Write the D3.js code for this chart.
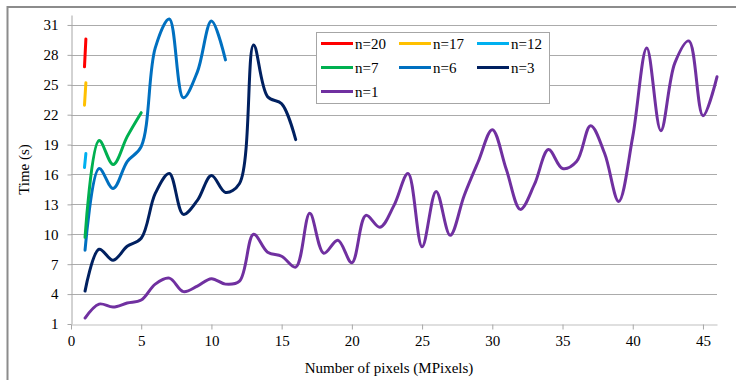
<!DOCTYPE html>
<html>
<head>
<meta charset="utf-8">
<script src="https://cdn.jsdelivr.net/npm/d3@7"></script>
<style>
  body { margin: 0; background: #fff; }
</style>
</head>
<body>
<div id="chart"></div>
<script>
// chart size and plot area
let width = 736, height = 380;
let margin = {top: 15, right: 19, bottom: 56, left: 71};
let serif = "'Liberation Serif', 'Times New Roman', serif";

// data: x = MPixels, y = time (s)
const seriesNames = ["n=20", "n=17", "n=12", "n=7", "n=6", "n=3", "n=1"];
const seriesColors = ["#FF0000", "#FFC000", "#00B0F0", "#00B050", "#0070C0", "#002060", "#7030A0"];

const xN20 = [0.96, 1.06];
const yN20 = [26.8, 29.6];
const xN17 = [0.96, 1.06];
const yN17 = [22.95, 25.2];
const xN12 = [0.96, 1.06];
const yN12 = [16.7, 18.1];

const xN7 = [1, 2, 3, 4, 5];
const yN7 = [9.7, 19.4, 17.0, 19.8, 22.2];

const xN6 = [1, 2, 3, 4, 5, 6, 7, 8, 9, 10, 11];
const yN6 = [8.4, 16.6, 14.6, 17.3, 18.8, 28.7, 31.6, 23.7, 26.3, 31.4, 27.5];

const xN3 = [1, 2, 3, 4, 5, 6, 7, 8, 9, 10, 11, 12, 13, 14, 15, 16];
const yN3 = [4.3, 8.5, 7.4, 8.8, 9.6, 14.1, 16.1, 12.0, 13.4, 15.9, 14.2, 15.1, 29.0, 23.8, 23.1, 19.5];

const xN1 = d3.range(1, 47);
const yN1 = [1.6, 3.0, 2.7, 3.1, 3.4, 5.0, 5.6, 4.25, 4.8, 5.55,
             5.0, 5.3, 10.0, 8.2, 7.8, 6.7, 12.1, 8.1, 9.4, 7.15,
             11.9, 10.7, 12.9, 16.1, 8.75, 14.3, 9.9, 13.9, 17.3, 20.5,
             16.5, 12.5, 15.0, 18.5, 16.6, 17.3, 20.9, 18.1, 13.3, 19.8,
             28.7, 20.4, 27.2, 29.4, 21.9, 25.8];

const xTicks = [0, 5, 10, 15, 20, 25, 30, 35, 40, 45];
const yTicks = [1, 4, 7, 10, 13, 16, 19, 22, 25, 28, 31];

const seriesX = [xN20, xN17, xN12, xN7, xN6, xN3, xN1];
const seriesY = [yN20, yN17, yN12, yN7, yN6, yN3, yN1];

let svg = d3.select("#chart").append("svg")
    .attr("width", width)
    .attr("height", height);

// outer chart frame (runs off the right / bottom edges)
svg.append("rect")
    .attr("x", 7.5).attr("y", 7)
    .attr("width", 760).attr("height", 400)
    .attr("fill", "#fff")
    .attr("stroke", "#8c8c8c")
    .attr("stroke-width", 2);

let x = d3.scaleLinear().domain([0, 46]).range([margin.left, width - margin.right]);
let y = d3.scaleLinear().domain([1, 32]).range([height - margin.bottom, margin.top]);

// horizontal gridlines
svg.append("g")
    .selectAll("line")
    .data(yTicks.slice(1))
    .enter()
    .append("line")
    .attr("x1", x(0)).attr("x2", x(46))
    .attr("y1", d => Math.round(y(d)) + 0.5)
    .attr("y2", d => Math.round(y(d)) + 0.5)
    .attr("stroke", "#ababab");

// y axis
let yAxis = svg.append("g")
    .attr("transform", "translate(" + (Math.round(x(0)) + 0.5) + ",0)")
    .call(d3.axisLeft(y).tickValues(yTicks).tickSize(4).tickPadding(9).tickSizeOuter(0));
yAxis.attr("font-family", null);
yAxis.select(".domain").attr("stroke", "#a6a6a6");
yAxis.selectAll(".tick line").attr("stroke", "#a6a6a6");
yAxis.selectAll("text").style("font-family", serif).style("font-size", "15px").attr("fill", "#000");

// x axis
let xAxis = svg.append("g")
    .attr("transform", "translate(0," + (Math.round(y(1)) + 0.5) + ")")
    .call(d3.axisBottom(x).tickValues(xTicks).tickSize(5).tickPadding(6).tickSizeOuter(0));
xAxis.attr("font-family", null);
xAxis.select(".domain").attr("stroke", "#bfbfbf");
xAxis.selectAll(".tick line").attr("stroke", "#a6a6a6");
xAxis.selectAll("text").style("font-family", serif).style("font-size", "15px").attr("fill", "#000");

// axis titles
svg.append("text")
    .attr("transform", "translate(29," + ((margin.top + height - margin.bottom) / 2) + ") rotate(-90)")
    .attr("text-anchor", "middle")
    .style("font-family", serif)
    .style("font-size", "15px")
    .text("Time (s)");

svg.append("text")
    .attr("x", 389)
    .attr("y", 373)
    .attr("text-anchor", "middle")
    .style("font-family", serif)
    .style("font-size", "15px")
    .text("Number of pixels (MPixels)");

// smoothed lines, n=1 drawn first so the others sit on top
let line = d3.line()
    .x(d => x(d[0]))
    .y(d => y(d[1]))
    .curve(d3.curveCatmullRom.alpha(0.5));

for (let i = seriesNames.length - 1; i >= 0; i--) {
    let pts = seriesX[i].map((v, j) => [v, seriesY[i][j]]);
    svg.append("path")
        .datum(pts)
        .attr("fill", "none")
        .attr("stroke", seriesColors[i])
        .attr("stroke-width", 3)
        .attr("stroke-linecap", "round")
        .attr("stroke-linejoin", "round")
        .attr("d", line);
}

// legend
let legend = svg.append("g").attr("transform", "translate(316,32)");
legend.append("rect")
    .attr("x", 0.5).attr("y", 0.5)
    .attr("width", 233).attr("height", 71)
    .attr("fill", "#fff")
    .attr("stroke", "#a6a6a6");

seriesNames.forEach((name, i) => {
    let col = i % 3, row = Math.floor(i / 3);
    let g = legend.append("g")
        .attr("transform", "translate(" + (5 + col * 78) + "," + (11.5 + row * 24) + ")");
    g.append("line")
        .attr("x1", 0).attr("x2", 32)
        .attr("y1", 0).attr("y2", 0)
        .attr("stroke", seriesColors[i])
        .attr("stroke-width", 3);
    g.append("text")
        .attr("x", 34)
        .attr("y", 5)
        .style("font-family", serif)
        .style("font-size", "15px")
        .text(name);
});
</script>
</body>
</html>
